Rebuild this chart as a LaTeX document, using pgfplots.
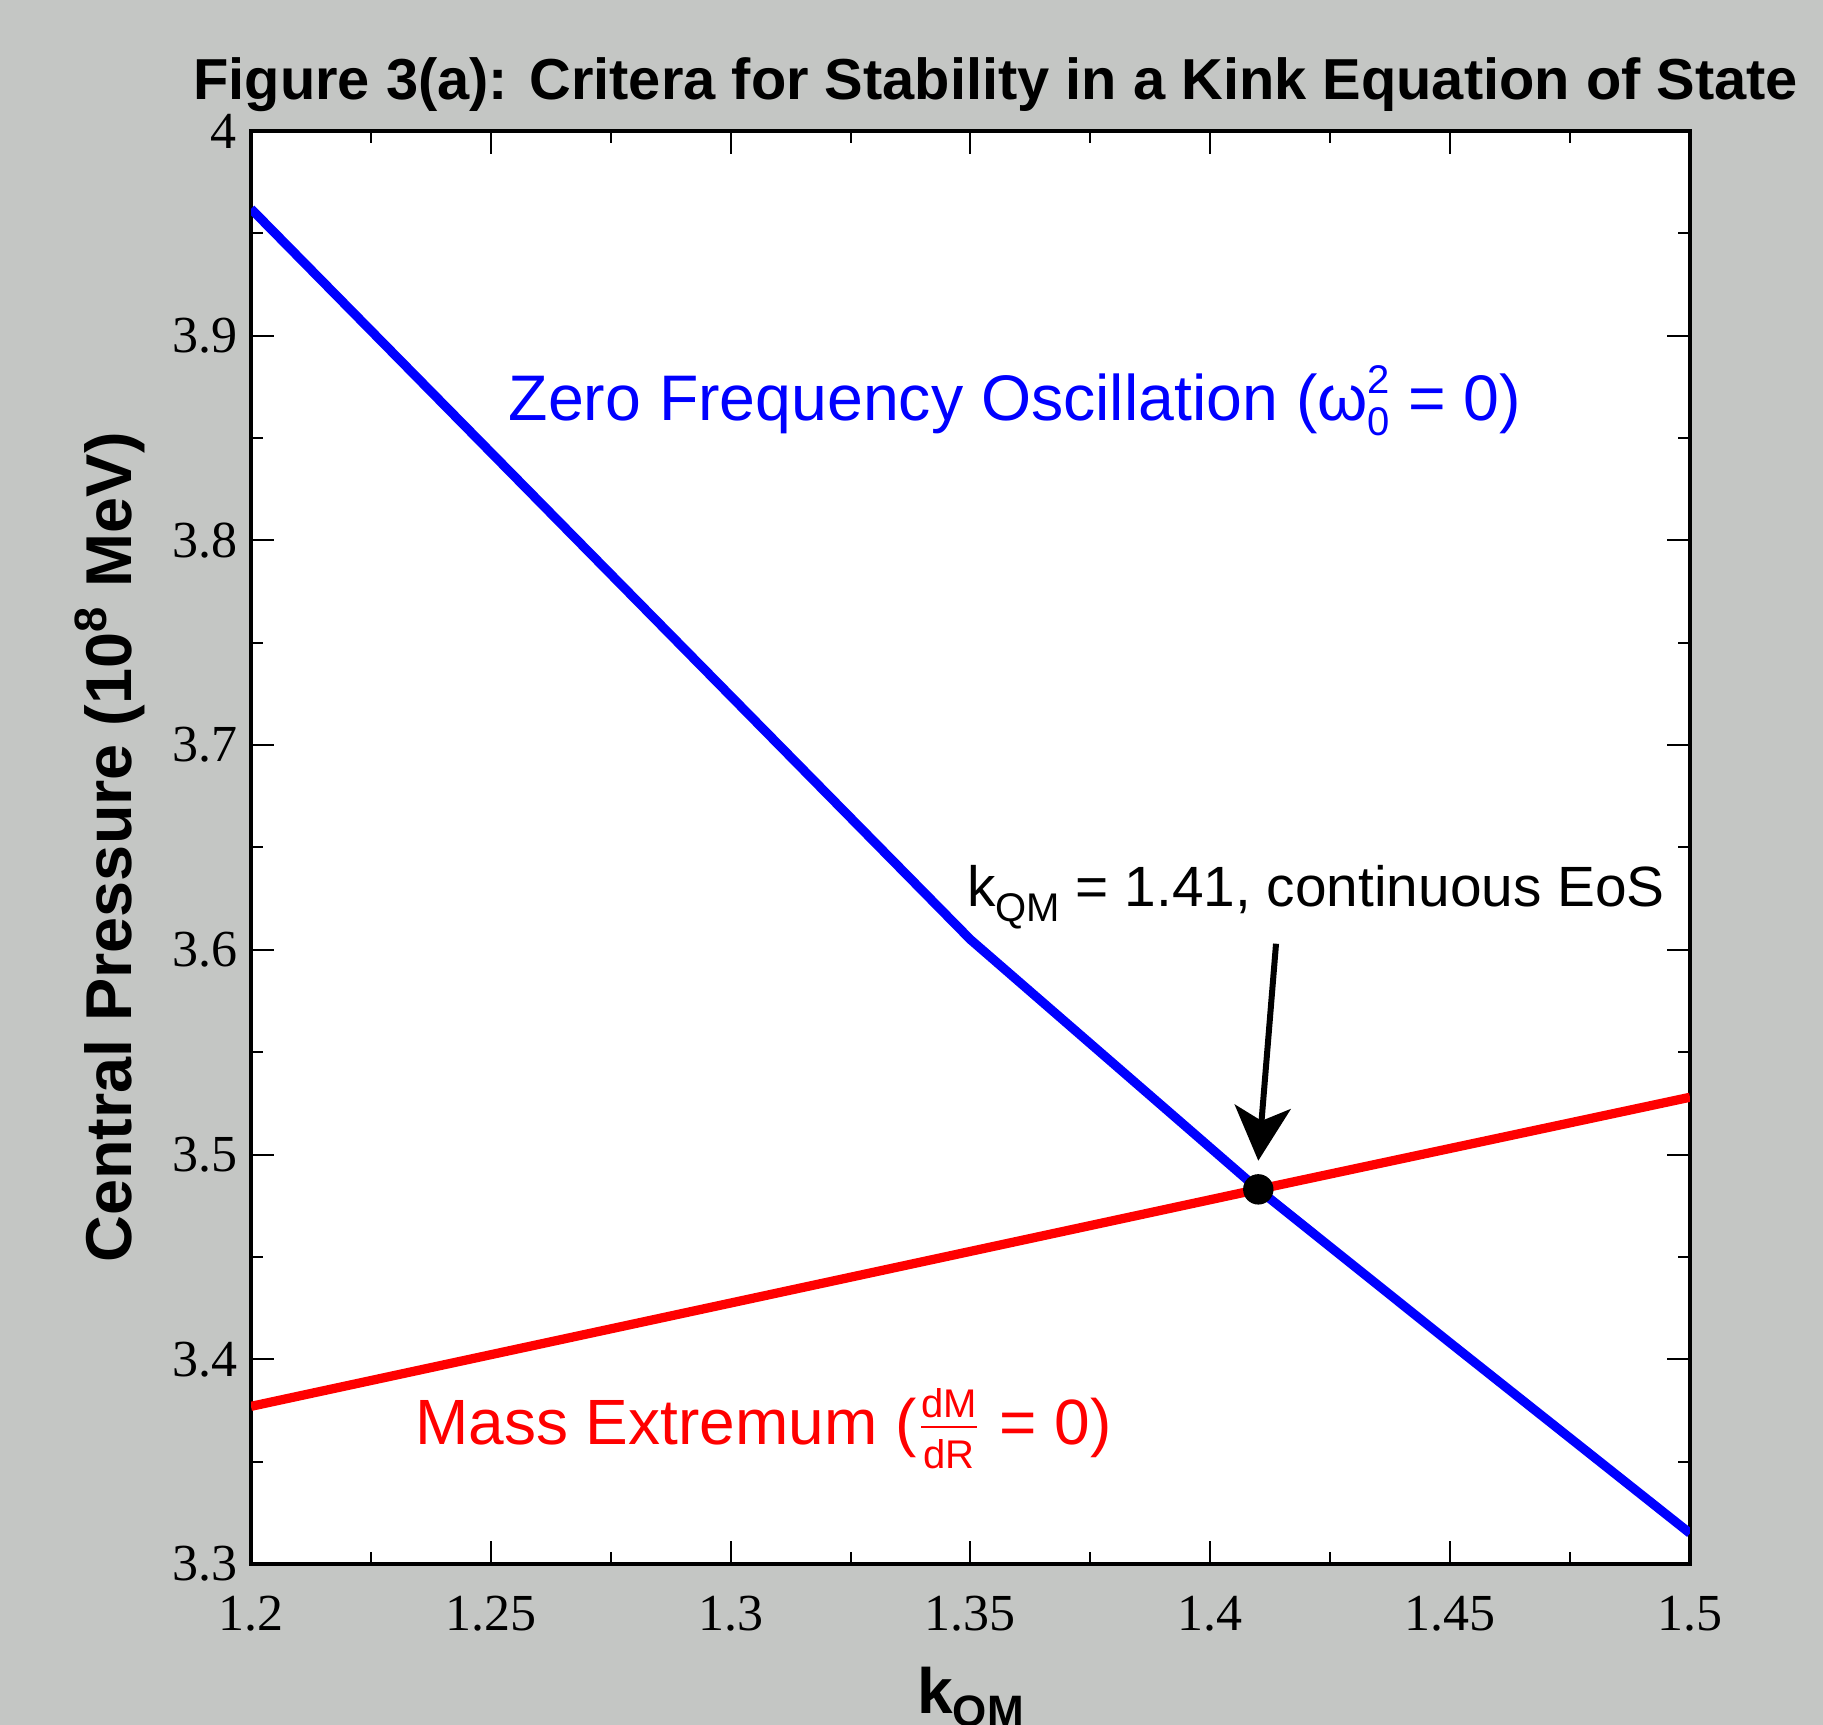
\documentclass[border=0pt]{standalone}
\usepackage{pgfplots}
\pgfplotsset{compat=1.18}
\usepackage{fontspec}
\setmainfont{Liberation Sans}
\newfontfamily\tnr{Liberation Serif}
\usetikzlibrary{arrows.meta}
\definecolor{bggray}{RGB}{196,198,196}

\begin{document}
\begin{tikzpicture}
\fill[bggray] (-62.75pt,-40.25pt) rectangle (393pt,391pt);
\begin{axis}[
  name=ax,
  at={(0,0)}, anchor=south west,
  scale only axis,
  width=359.75pt, height=358.25pt,
  xmin=1.2, xmax=1.5, ymin=3.3, ymax=4,
  xtick={1.2,1.25,1.3,1.35,1.4,1.45,1.5},
  ytick={3.3,3.4,3.5,3.6,3.7,3.8,3.9,4},
  minor tick num=1,
  tick align=inside,
  major tick length=5.75pt, minor tick length=3pt,
  every tick/.style={black, line width=0.5pt},
  axis line style={line width=1pt},
  axis background/.style={fill=white},
  /pgf/number format/assume math mode=true,
  ticklabel style={font=\tnr\fontsize{13}{13}\selectfont},
  xticklabel style={anchor=north, inner sep=0pt, yshift=-7.8pt},
  yticklabel style={anchor=east, inner sep=0pt, xshift=-3.3pt},
]
% zero-frequency oscillation criterion
\addplot[blue, line width=2.3pt] coordinates {
  (1.2,3.962) (1.35,3.605) (1.41,3.483) (1.45,3.408) (1.5,3.315)
};
% mass extremum criterion
\addplot[red, line width=2.3pt] coordinates {
  (1.2,3.377) (1.41,3.483) (1.5,3.528)
};
\addplot[only marks, mark=*, mark size=3.6pt, black] coordinates {(1.41,3.483)};

\node[blue, anchor=base west, font=\fontsize{16.1}{16}\selectfont] at (axis cs:1.2508,3.8585)
  {Zero Frequency Oscillation (ω\rlap{\raisebox{-0.45ex}{\fontsize{10}{10}\selectfont 0}}\raisebox{0.8ex}{\fontsize{10}{10}\selectfont 2} = 0)};
\node[red, anchor=base west, font=\fontsize{16}{16}\selectfont] at (axis cs:1.2313,3.3585)
  {Mass Extremum ($\frac{\mbox{\fontsize{10}{10}\selectfont dM}}{\mbox{\fontsize{10}{10}\selectfont dR}}$ = 0)};
\node[black, anchor=base west, font=\fontsize{14.2}{14.2}\selectfont] at (axis cs:1.3464,3.621)
  {k\raisebox{-0.5ex}{\fontsize{10}{10}\selectfont QM} = 1.41, continuous EoS};
\draw[line width=1.5pt, -{Stealth[length=13.5pt, width=14pt, inset=3.5pt]}]
  (axis cs:1.4137,3.603) -- (axis cs:1.410,3.497);
\end{axis}

\node[anchor=base, font=\bfseries\fontsize{14.45}{14.45}\selectfont] at ([xshift=6.3pt, yshift=8pt]ax.north)
  {Figure 3(a): Critera for Stability in a Kink Equation of State};
\node[rotate=90, anchor=base, font=\bfseries\fontsize{16.2}{16}\selectfont] at ([xshift=-29.8pt]ax.west)
  {Central Pressure (10\textsuperscript{8} MeV)};
\node[anchor=base, font=\bfseries\fontsize{16}{16}\selectfont] at ([yshift=-37.3pt]ax.south)
  {k\raisebox{-0.4ex}{\fontsize{11}{11}\selectfont QM}};

\pgfresetboundingbox
\path (-62.75pt,-40.25pt) rectangle (393pt,391pt);
\end{tikzpicture}
\end{document}
